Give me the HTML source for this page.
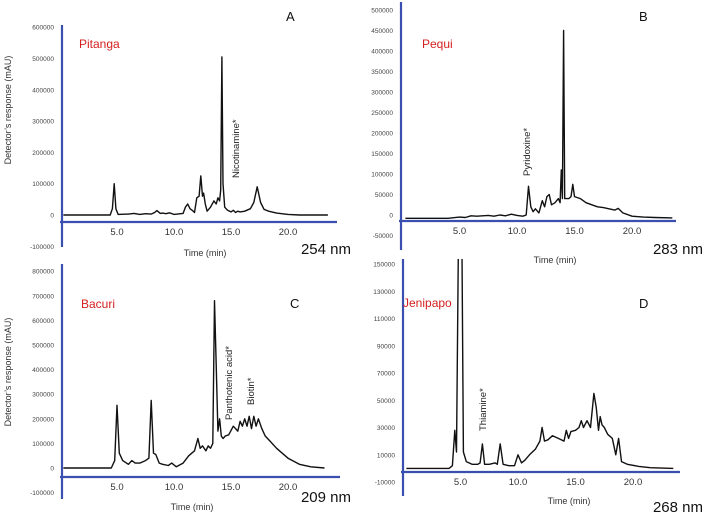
<!DOCTYPE html>
<html><head><meta charset="utf-8"><style>
html,body{margin:0;padding:0;background:#fff;}
svg{display:block;font-family:"Liberation Sans",sans-serif;}
</style></head><body>
<svg id="chart" width="705" height="518" viewBox="0 0 705 518" xmlns="http://www.w3.org/2000/svg"></svg>
<script>
// Panel A (Pitanga, 254 nm)
const timesA=[0.3,4.4,4.6,4.75,4.9,5.1,6,6.5,7,7.5,8,8.3,8.5,8.8,9,9.3,9.6,10,10.8,11,11.2,11.4,11.6,11.8,12,12.2,12.35,12.5,12.6,12.75,12.9,13.2,13.5,13.7,13.85,14.0,14.1,14.2,14.3,14.45,14.7,15.0,15.2,15.4,15.6,15.8,16.2,16.7,17.0,17.3,17.6,17.9,18.3,19,20,21,22,23.5];
const valuesA=[0,0,20000,100000,20000,2000,3000,5000,2000,4000,3000,8000,14000,5000,6000,4000,7000,2000,5000,25000,35000,20000,15000,8000,55000,60000,125000,60000,70000,35000,12000,25000,45000,35000,55000,45000,80000,505000,100000,25000,15000,10000,15000,8000,12000,10000,12000,20000,40000,90000,40000,18000,12000,6000,2000,0,0,0];
const yTicksA=[600000,500000,400000,300000,200000,100000,0,-100000];
// Panel B (Pequi, 283 nm)
const timesB=[0.3,4,5,5.5,6,6.5,7,7.5,8,8.5,9,9.5,10,10.5,10.8,11.0,11.2,11.4,11.6,11.9,12.2,12.4,12.6,12.8,13.0,13.3,13.6,13.75,13.85,13.95,14.05,14.15,14.3,14.5,14.7,14.85,15.0,15.5,16,16.5,17,17.5,18,18.5,18.8,19.2,20,21,22,23.5];
const valuesB=[-8000,-8000,-5000,-6000,-2000,-3000,-2000,-1000,-3000,0,-2000,2000,-1000,-3000,0,70000,20000,8000,15000,5000,35000,20000,45000,50000,25000,30000,40000,30000,110000,40000,450000,40000,40000,40000,45000,75000,45000,40000,30000,25000,20000,18000,15000,12000,16000,5000,-3000,-5000,-6000,-7000];
const yTicksB=[500000,450000,400000,350000,300000,250000,200000,150000,100000,50000,0,-50000];
// Panel C (Bacuri, 209 nm)
const timesC=[0.3,4.5,4.8,5.0,5.2,5.5,6,6.3,6.6,7,7.5,7.8,8.0,8.2,8.4,8.7,9,9.5,9.8,10.2,10.8,11.3,11.8,12.1,12.3,12.5,12.8,13.0,13.2,13.4,13.55,13.7,13.85,14.0,14.15,14.3,14.5,14.8,15.2,15.6,15.8,16.0,16.2,16.4,16.6,16.8,17.0,17.2,17.4,17.7,18.0,18.4,19,20,21,22,23.2];
const valuesC=[0,0,30000,255000,60000,30000,15000,30000,20000,20000,30000,40000,275000,60000,55000,20000,15000,10000,20000,5000,20000,50000,70000,120000,80000,90000,70000,90000,80000,100000,680000,420000,150000,200000,130000,120000,130000,135000,170000,150000,190000,170000,200000,170000,210000,160000,210000,170000,200000,160000,130000,110000,80000,40000,15000,5000,0];
const yTicksC=[800000,700000,600000,500000,400000,300000,200000,100000,0,-100000];
// Panel D (Jenipapo, 268 nm)
const timesD=[0.3,4,4.3,4.5,4.65,4.8,4.9,5.1,5.25,5.5,6,6.5,6.7,6.9,7.1,7.5,8,8.2,8.45,8.7,9.2,9.7,10,10.3,10.6,11,11.5,11.9,12.1,12.3,12.6,13,13.5,14,14.2,14.4,14.6,15,15.3,15.5,15.7,16,16.3,16.6,16.8,17.0,17.15,17.3,17.5,17.8,18.2,18.5,18.75,19,19.5,20.5,21.5,23.5];
const valuesD=[0,0,2000,28000,12000,150000,200000,200000,12000,5000,3000,3000,4000,18000,3000,3000,4000,3000,18000,3000,2000,2000,10000,4000,6000,10000,14000,20000,30000,20000,21000,24000,22000,20000,28000,22000,27000,28000,30000,35000,30000,35000,30000,55000,45000,28000,38000,32000,30000,25000,22000,10000,22000,5000,3000,1500,500,0];
const yTicksD=[150000,130000,110000,90000,70000,50000,30000,10000,-10000];
const xTickLabels=[5,10,15,20];

const NS="http://www.w3.org/2000/svg";
const svg=document.getElementById('chart');
function mk(tag,attrs,parent){const e=document.createElementNS(NS,tag);for(const k in attrs)e.setAttribute(k,attrs[k]);(parent||svg).appendChild(e);return e;}

function panel(p,times,values,yTicks){
  const g=mk('g',{});
  
  
  const xs=t=>p.x0+t*p.pxPerMin;
  const ys=v=>p.yZero-(v/p.yUnit)*p.yPx;
  const clipId='clip-'+p.id;
  const cp=mk('clipPath',{id:clipId},g);
  mk('rect',{x:p.axX,y:p.clipTop,width:p.axRight-p.axX,height:p.axY-p.clipTop+4},cp);
  // y ticks
  for(const v of yTicks){
    const t=mk('text',{x:p.axX-8,y:ys(v)+2.5,'text-anchor':'end','font-size':6.5,fill:'#444'},g);
    t.textContent=String(v);
    
    
  }
  for(const v of xTickLabels){
    const t=mk('text',{x:xs(v),y:p.axY+13,'text-anchor':'middle','font-size':9.5,fill:'#333'},g);
    t.textContent=v.toFixed(1);
    
    
  }
  // trace
  const pts=times.map((t,i)=>xs(t).toFixed(1)+','+ys(values[i]).toFixed(1)).join(' ');
  const line=mk('polyline',{points:pts,fill:'none',stroke:'#111','stroke-width':1.4,'stroke-linejoin':'round','clip-path':'url(#'+clipId+')'},g);
  
  
  // axes
  const ya=mk('line',{x1:p.axX,y1:p.axTop,x2:p.axX,y2:p.axBottom,stroke:'#3a4fb0','stroke-width':2.2},g);
  
  
  const xa=mk('line',{x1:p.axX-2,y1:p.axY,x2:p.axRight,y2:p.axY,stroke:'#3a4fb0','stroke-width':2.2},g);
  
  
  // titles
  const xt=mk('text',{x:p.xtX,y:p.xtY,'text-anchor':'middle','font-size':9,fill:'#333'},g);
  xt.textContent='Time (min)';
  
  
  const nm=mk('text',{x:p.nmX,y:p.nmY,'text-anchor':'end','font-size':15,fill:'#111'},g);
  nm.textContent=p.nm;
  
  
  const lt=mk('text',{x:p.letX,y:p.letY,'font-size':13,fill:'#111'},g);
  lt.textContent=p.letter;
  
  
  const fr=mk('text',{x:p.fruitX,y:p.fruitY,'font-size':12,fill:'#d42020'},g);
  fr.textContent=p.fruit;
  
  
  if(p.yTitle){
    const yt=mk('text',{x:0,y:0,'text-anchor':'middle','font-size':9,fill:'#333',transform:'translate(11,'+p.yTitle+') rotate(-90)'},g);
    yt.textContent="Detector\u2019s response (mAU)";
    
    
  }
  for(const a of p.ann){
    const at=mk('text',{x:0,y:0,'text-anchor':'start','font-size':9.5,fill:'#222',transform:'translate('+(a[0]+3)+','+a[1]+') rotate(-90)'},g);
    at.textContent=a[2];
    
    
  }
}

panel({id:'pitanga',x0:60,pxPerMin:11.4,yZero:215,yUnit:100000,yPx:31.3,axX:62,axTop:25,axBottom:247,axY:222,axRight:337,clipTop:20,
  xtX:205,xtY:256,nm:'254 nm',nmX:351,nmY:254,letter:'A',letX:286,letY:21,fruit:'Pitanga',fruitX:79,fruitY:48,yTitle:110,
  ann:[[236,178,'Nicotinamine*']]},timesA,valuesA,yTicksA);
panel({id:'pequi',x0:402,pxPerMin:11.5,yZero:215,yUnit:50000,yPx:20.5,axX:401,axTop:2,axBottom:250,axY:221,axRight:676,clipTop:0,
  xtX:555,xtY:263,nm:'283 nm',nmX:703,nmY:254,letter:'B',letX:639,letY:21,fruit:'Pequi',fruitX:422,fruitY:48,yTitle:0,
  ann:[[527,176,'Pyridoxine*']]},timesB,valuesB,yTicksB);
panel({id:'bacuri',x0:60,pxPerMin:11.4,yZero:468,yUnit:100000,yPx:24.6,axX:62,axTop:264,axBottom:499,axY:477,axRight:340,clipTop:262,
  xtX:192,xtY:510,nm:'209 nm',nmX:351,nmY:502,letter:'C',letX:290,letY:308,fruit:'Bacuri',fruitX:81,fruitY:308,yTitle:372,
  ann:[[229,420,'Panthotenic acid*'],[251,405,'Biotin*']]},timesC,valuesC,yTicksC);
panel({id:'jenipapo',x0:403,pxPerMin:11.5,yZero:468.4,yUnit:20000,yPx:27.25,axX:403,axTop:259,axBottom:496,axY:472,axRight:680,clipTop:259,
  xtX:569,xtY:504,nm:'268 nm',nmX:703,nmY:512,letter:'D',letX:639,letY:308,fruit:'Jenipapo',fruitX:403,fruitY:307,yTitle:0,
  ann:[[483,431,'Thiamine*']]},timesD,valuesD,yTicksD);
</script>
</body></html>
